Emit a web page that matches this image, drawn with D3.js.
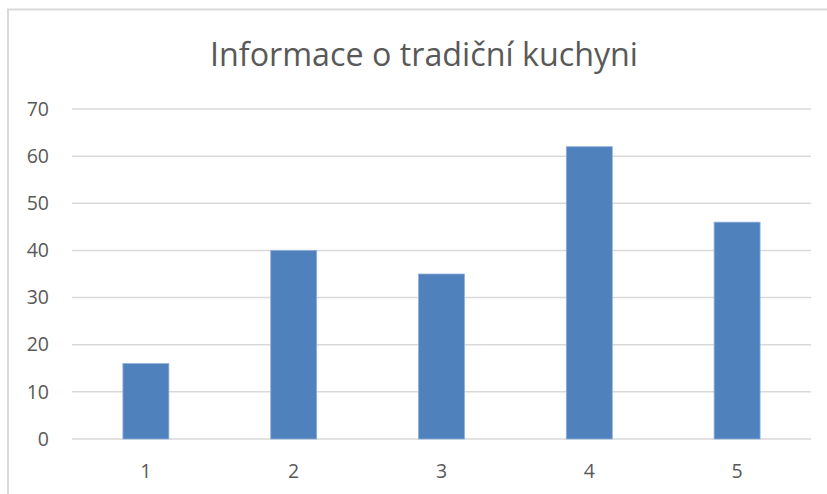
<!DOCTYPE html>
<html>
<head>
<meta charset="utf-8">
<script src="https://cdn.jsdelivr.net/npm/d3@7"></script>
<style>
  html, body { margin: 0; padding: 0; background: #fff; }
  svg { display: block; }
</style>
</head>
<body>
<div id="chart"></div>
<script>
// data
const categories = ['1', '2', '3', '4', '5'];
const values = [16, 40, 35, 62, 46];
const yTicks = [0, 10, 20, 30, 40, 50, 60, 70];
const title = 'Informace o tradiční kuchyni';

const W = 827, H = 494;
const svg = d3.select('#chart').append('svg')
    .attr('width', W)
    .attr('height', H);

// chart frame (runs off the right and bottom edge)
svg.append('rect')
    .attr('x', 8).attr('y', 9.5)
    .attr('width', 840).attr('height', 520)
    .attr('fill', '#fff')
    .attr('stroke', '#d9d9d9')
    .attr('stroke-width', 2);

const x = d3.scaleBand()
    .domain(categories)
    .range([72, 811])
    .paddingInner(0.689)
    .paddingOuter(0.689 / 2);

const y = d3.scaleLinear()
    .domain([0, 70])
    .range([439, 109]);

// gridlines
svg.append('g')
    .selectAll('line')
    .data(yTicks)
    .join('line')
    .attr('x1', 72).attr('x2', 811)
    .attr('y1', d => y(d)).attr('y2', d => y(d))
    .attr('stroke', '#d9d9d9')
    .attr('stroke-width', 1.5);

// y axis labels
const yAxis = svg.append('g')
    .attr('transform', 'translate(49,0)')
    .call(d3.axisLeft(y).tickValues(yTicks).tickSize(0).tickPadding(0));
yAxis.select('.domain').remove();
yAxis.selectAll('text')
    .attr('font-family', '"Open Sans", sans-serif')
    .attr('font-size', 19.5)
    .attr('fill', '#595959');

// bars
svg.append('g')
    .selectAll('rect')
    .data(values)
    .join('rect')
    .attr('x', (d, i) => x(categories[i]))
    .attr('y', d => y(d))
    .attr('width', x.bandwidth())
    .attr('height', d => y(0) - y(d))
    .attr('fill', '#4f81bd')
    .attr('stroke', '#8eaedb')
    .attr('stroke-width', 0.8);

// x axis labels
const xAxis = svg.append('g')
    .attr('transform', 'translate(0,458)')
    .call(d3.axisBottom(x).tickSize(0).tickPadding(0));
xAxis.select('.domain').remove();
xAxis.selectAll('text')
    .attr('dy', '1em')
    .attr('font-family', '"Open Sans", sans-serif')
    .attr('font-size', 19.5)
    .attr('fill', '#595959');

// title
svg.append('text')
    .attr('x', 424)
    .attr('y', 66)
    .attr('text-anchor', 'middle')
    .attr('font-family', '"Open Sans", sans-serif')
    .attr('font-size', 32)
    .attr('fill', '#595959')
    .attr('textLength', 428)
    .attr('lengthAdjust', 'spacingAndGlyphs')
    .text(title);
</script>
</body>
</html>
